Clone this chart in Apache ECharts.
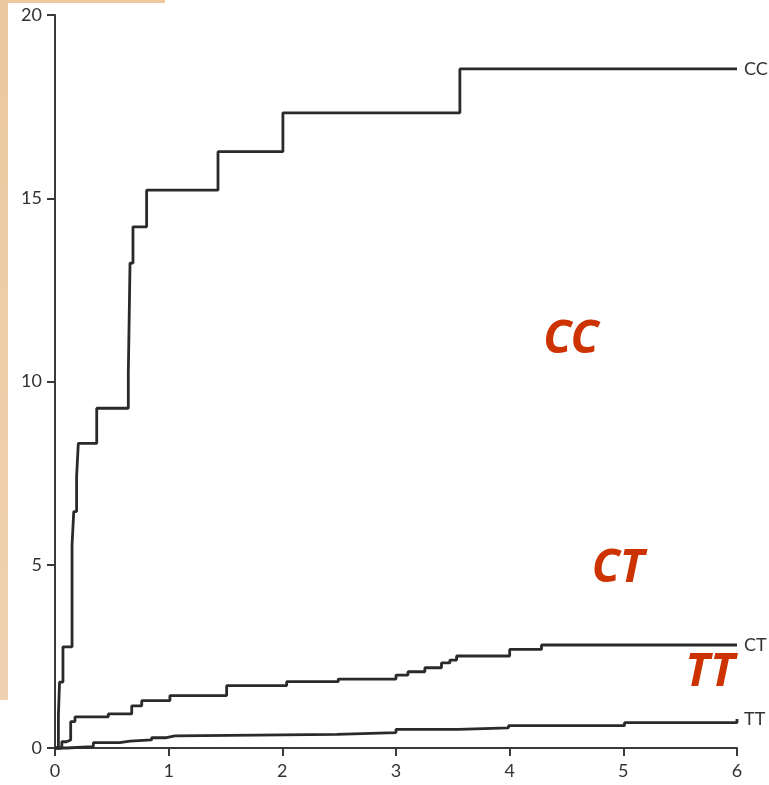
<!DOCTYPE html>
<html>
<head>
<meta charset="utf-8">
<script src="https://cdn.jsdelivr.net/npm/echarts@6/dist/echarts.min.js"></script>
<style>
html,body{margin:0;padding:0;background:#fff;}
#chart{width:769px;height:785px;}
</style>
</head>
<body>
<div id="chart"></div>
<script>
// Data
var ccX = [0, 0.03, 0.04, 0.07, 0.15, 0.165, 0.19, 0.205, 0.367, 0.645, 0.65, 0.655, 0.66, 0.686, 0.806, 1.434, 2.005, 3.562, 6];
var ccY = [0, 0.9, 1.8, 2.76, 5.54, 6.45, 7.4, 8.31, 9.27, 10.23, 11.2, 12.2, 13.23, 14.22, 15.22, 16.27, 17.33, 18.53, 18.53];

var ctX = [0, 0.06, 0.10, 0.138, 0.176, 0.469, 0.675, 0.763, 1.011, 1.51, 2.038, 2.492, 3.0, 3.105, 3.254, 3.40, 3.474, 3.533, 4.0, 4.28, 6];
var ctY = [0, 0.17, 0.22, 0.72, 0.85, 0.93, 1.15, 1.29, 1.43, 1.7, 1.81, 1.88, 1.99, 2.08, 2.19, 2.32, 2.4, 2.51, 2.69, 2.81, 2.81];

var ttX = [0, 0.1, 0.337, 0.57, 0.66, 0.85, 0.98, 1.055, 2.48, 3.0, 3.55, 3.99, 5.01, 6];
var ttY = [0, 0.04, 0.145, 0.19, 0.22, 0.28, 0.33, 0.37, 0.42, 0.51, 0.55, 0.61, 0.69, 0.79];

var seriesNames = ['CC', 'CT', 'TT'];
var xTicks = {min: 0, max: 6, interval: 1};
var yTicks = {min: 0, max: 20, interval: 5};

function pairs(xs, ys) {
  return xs.map(function (x, i) { return [x, ys[i]]; });
}

var chart = echarts.init(document.getElementById('chart'));
var lineStyle = {color: '#2a2a2a', width: 2.8};
var endLabel = {
  show: true,
  formatter: '{a}',
  color: '#333',
  fontFamily: 'Lato',
  fontSize: 18,
  distance: 7
};

function mk(name, xs, ys) {
  return {
    name: name,
    type: 'line',
    step: 'end',
    data: pairs(xs, ys),
    symbol: 'none',
    lineStyle: lineStyle,
    endLabel: endLabel,
    silent: true,
    clip: false
  };
}

var axisCommon = {
  type: 'value',
  splitLine: {show: false},
  axisLine: {show: true, onZero: false, lineStyle: {color: '#3a3a3a', width: 2}},
  axisTick: {show: true, length: 8, lineStyle: {color: '#3a3a3a', width: 2}},
  axisLabel: {color: '#333', fontFamily: 'Lato', fontSize: 18}
};

var option = {
  backgroundColor: '#ffffff',
  animation: false,
  grid: {left: 55, right: 32, top: 15, bottom: 37, containLabel: false},
  xAxis: Object.assign({}, axisCommon, {
    min: xTicks.min, max: xTicks.max, interval: xTicks.interval,
    axisLabel: Object.assign({}, axisCommon.axisLabel, {margin: 14})
  }),
  yAxis: Object.assign({}, axisCommon, {
    min: yTicks.min, max: yTicks.max, interval: yTicks.interval,
    axisLabel: Object.assign({}, axisCommon.axisLabel, {margin: 13})
  }),
  series: [
    mk(seriesNames[0], ccX, ccY),
    mk(seriesNames[1], ctX, ctY),
    mk(seriesNames[2], ttX, ttY)
  ],
  graphic: [
    {type: 'rect', shape: {x: 0, y: 0, width: 8, height: 700}, z: -1,
      style: {fill: new echarts.graphic.LinearGradient(0, 0, 0, 1, [
        {offset: 0, color: '#ebc89e'}, {offset: 1, color: '#f0d2b2'}])}},
    {type: 'rect', shape: {x: 0, y: 0, width: 165, height: 3}, z: -1,
      style: {fill: '#ebc89e'}},
    {type: 'text', x: 571, y: 340, z: 10,
      style: {text: 'CC', fill: '#cc3300', font: 'italic bold 46px "Noto Sans"',
        textAlign: 'center', textVerticalAlign: 'middle'}},
    {type: 'text', x: 618, y: 569, z: 10,
      style: {text: 'CT', fill: '#cc3300', font: 'italic bold 46px "Noto Sans"',
        textAlign: 'center', textVerticalAlign: 'middle'}},
    {type: 'text', x: 710, y: 673, z: 10,
      style: {text: 'TT', fill: '#cc3300', font: 'italic bold 46px "Noto Sans"',
        textAlign: 'center', textVerticalAlign: 'middle'}}
  ]
};
chart.setOption(option);
</script>
</body>
</html>
